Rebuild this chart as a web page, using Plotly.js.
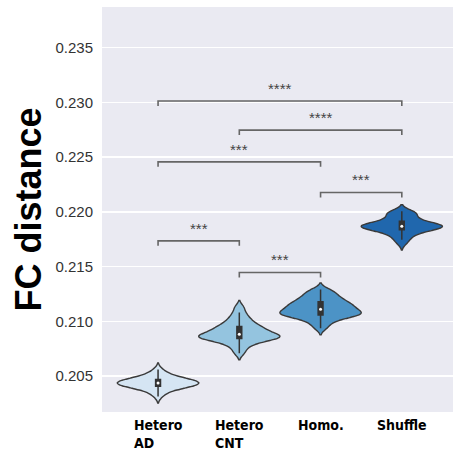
<!DOCTYPE html>
<html>
<head>
<meta charset="utf-8">
<script src="https://cdn.plot.ly/plotly-3.0.1.min.js"></script>
<style>html,body{margin:0;padding:0;background:#fff;}#chart{width:453px;height:458px;}</style>
</head>
<body>
<div id="chart"></div>
<script>
// Categories and tick labels
var categories = ["Hetero AD", "Hetero CNT", "Homo.", "Shuffle"];
var tickLabels = ["Hetero<br>AD", "Hetero<br>CNT", "Homo.", "Shuffle"];

// FC distance samples per group (estimated from violin shapes)
var heteroAD = [0.20313, 0.20345, 0.20365, 0.20378, 0.20388, 0.20396, 0.20401, 0.20406, 0.20411, 0.20416,
                0.20420, 0.20424, 0.20428, 0.20432, 0.20435, 0.20438, 0.20441, 0.20445, 0.20449, 0.20453,
                0.20458, 0.20463, 0.20468, 0.20473, 0.20480, 0.20488, 0.20498, 0.20512, 0.20530, 0.20559];
var heteroCNT = [0.20707, 0.20750, 0.20780, 0.20800, 0.20815, 0.20826, 0.20835, 0.20842, 0.20848, 0.20852,
                 0.20856, 0.20860, 0.20865, 0.20870, 0.20877, 0.20885, 0.20893, 0.20902, 0.20912, 0.20922,
                 0.20932, 0.20940, 0.20952, 0.20965, 0.20980, 0.20998, 0.21020, 0.21045, 0.21080, 0.21130];
var homo = [0.20936, 0.20975, 0.21000, 0.21020, 0.21035, 0.21045, 0.21052, 0.21058, 0.21064, 0.21070,
            0.21076, 0.21082, 0.21088, 0.21095, 0.21105, 0.21115, 0.21124, 0.21132, 0.21140, 0.21148,
            0.21157, 0.21167, 0.21178, 0.21190, 0.21202, 0.21216, 0.21232, 0.21250, 0.21270, 0.21290];
var shuffle = [0.21712, 0.21745, 0.21770, 0.21790, 0.21805, 0.21818, 0.21828, 0.21836, 0.21843, 0.21849,
               0.21854, 0.21858, 0.21862, 0.21865, 0.21868, 0.21871, 0.21875, 0.21879, 0.21884, 0.21890,
               0.21897, 0.21905, 0.21915, 0.21928, 0.21942, 0.21958, 0.21975, 0.21990, 0.21998, 0.22005];
var groups = [heteroAD, heteroCNT, homo, shuffle];

// Significance comparisons
var compFrom = [0, 1, 2, 0, 1, 0];
var compTo = [1, 2, 3, 2, 3, 3];
var compLevel = [0.21735, 0.21446, 0.22177, 0.22457, 0.22747, 0.23013];
var compLabel = ["***", "***", "***", "***", "****", "****"];

var fillColors = ["#d5e5f3", "#94c4df", "#4c93c6", "#2067ad"];

function median(a) {
  var s = a.slice().sort(function (p, q) { return p - q; });
  var n = s.length;
  return n % 2 ? s[(n - 1) / 2] : (s[n / 2 - 1] + s[n / 2]) / 2;
}

var traces = [];
groups.forEach(function (g, i) {
  traces.push({
    type: "violin",
    y: g,
    x0: i,
    name: categories[i],
    width: 1.0,
    bandwidth: 0.0003,
    spanmode: "soft",
    points: false,
    fillcolor: fillColors[i],
    opacity: 1,
    line: {color: "#3a3a3a", width: 1.4},
    box: {visible: true, width: 0.06, fillcolor: "#333333", line: {color: "#333333", width: 1.5}},
    meanline: {visible: false},
    hoverinfo: "skip",
    showlegend: false
  });
});

traces.push({
  type: "scatter",
  mode: "markers",
  x: groups.map(function (g, i) { return i; }),
  y: groups.map(median),
  marker: {color: "#ffffff", size: 3},
  hoverinfo: "skip",
  showlegend: false
});

var tip = 0.00045;
var bx = [], by = [];
compFrom.forEach(function (a, k) {
  var b = compTo[k], lv = compLevel[k];
  bx.push(a, a, b, b, null);
  by.push(lv - tip, lv, lv, lv - tip, null);
});
traces.push({
  type: "scatter",
  mode: "lines",
  x: bx,
  y: by,
  line: {color: "#666666", width: 1.6},
  hoverinfo: "skip",
  showlegend: false
});

var annotations = [];
compFrom.forEach(function (a, k) {
  annotations.push({
    x: (a + compTo[k]) / 2, y: compLevel[k], xref: "x", yref: "y",
    text: compLabel[k], showarrow: false, yanchor: "bottom", yshift: 2,
    font: {family: "Liberation Sans, Arial, sans-serif", size: 15, color: "#444444"}
  });
});
tickLabels.forEach(function (t, i) {
  annotations.push({
    x: i, y: 0, xref: "x", yref: "paper",
    text: t, showarrow: false, yanchor: "top", xanchor: "center", align: "left", yshift: -3,
    font: {family: "DejaVu Sans Condensed, DejaVu Sans, sans-serif", size: 14, color: "#000000", weight: "bold"}
  });
});

var layout = {
  width: 453, height: 458,
  margin: {l: 102, r: 0, t: 7, b: 46, pad: 0},
  paper_bgcolor: "#ffffff",
  plot_bgcolor: "#eaeaf2",
  violinmode: "overlay",
  showlegend: false,
  xaxis: {
    type: "linear", range: [-0.69, 3.63], showgrid: false, zeroline: false,
    showticklabels: false, ticks: "", showline: false, fixedrange: true
  },
  yaxis: {
    range: [0.20171, 0.23872], dtick: 0.005, tick0: 0.205, tickformat: ".3f",
    showgrid: true, gridcolor: "#ffffff", gridwidth: 1.3, zeroline: false, showline: false,
    ticks: "", ticklabelstandoff: 8, automargin: true,
    tickfont: {family: "Liberation Sans, Arial, sans-serif", size: 15, color: "#333333"},
    title: {text: "FC distance", standoff: 2,
            font: {family: "Liberation Sans, Arial, sans-serif", size: 36, color: "#000000", weight: "bold"}}
  },
  annotations: annotations
};

Plotly.newPlot("chart", traces, layout, {displayModeBar: false, staticPlot: true});
</script>
</body>
</html>
